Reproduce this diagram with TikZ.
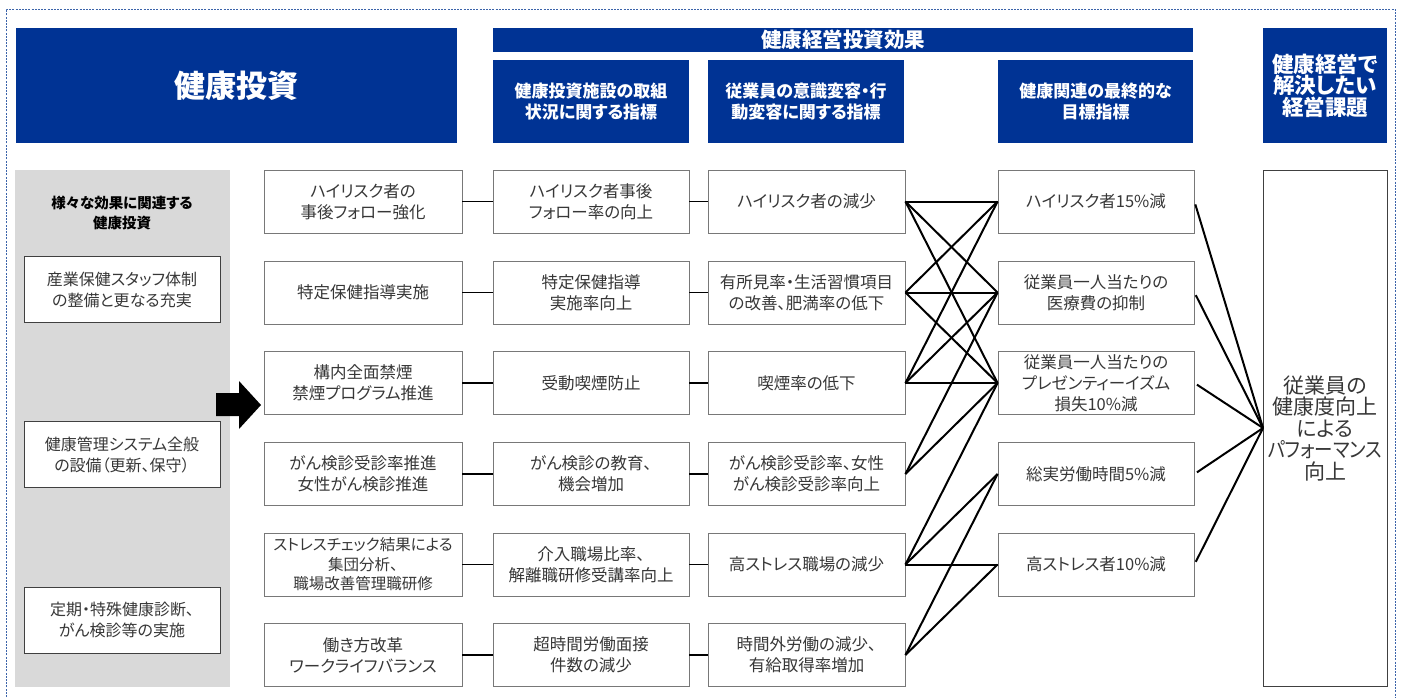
\documentclass[tikz,border=0pt]{standalone}
\usepackage{fontspec}
\setmainfont{Noto Sans CJK JP}[RawFeature=+palt]
\definecolor{hdrblue}{RGB}{0,51,148}
\definecolor{panelgray}{RGB}{217,217,217}
\definecolor{boxline}{RGB}{120,120,120}
\definecolor{darkline}{RGB}{64,64,64}
\definecolor{txtgray}{RGB}{55,55,55}
\definecolor{frameblue}{RGB}{60,100,170}
\tikzset{
  hdr/.style={fill=hdrblue, draw=none, text=white, inner sep=0pt, align=center,
    font=\bfseries\fontsize{17}{21}\selectfont},
  wbox/.style={draw=boxline, line width=0.9pt, fill=white, inner sep=0pt, align=center,
    text=txtgray, font=\fontsize{16.5}{21}\selectfont},
  cbox/.style={wbox, minimum width=#1, minimum height=63},
  lbox/.style={wbox, draw=darkline, minimum width=196, minimum height=66, font=\fontsize{16}{21}\selectfont},
  link/.style={draw=black, line width=2pt},
  frame/.style={draw=frameblue, line width=0.7pt, dash pattern=on 2pt off 1.2pt}
}
\begin{document}
\begin{tikzpicture}[x=1pt,y=-1pt]
\useasboundingbox (0,0) rectangle (1405,697);
\fill[white] (0,0) rectangle (1405,697);
\draw[frame] (6,697) -- (6,9) -- (1395,9) -- (1395,697);

% headers
\node[hdr, minimum width=441, minimum height=115, font=\bfseries\fontsize{31}{33}\selectfont] (h1) at (236.5,85.5) {健康投資};
\node[hdr, minimum width=700, minimum height=24, font=\bfseries\fontsize{20.5}{22}\selectfont] (hbar) at (843,40) {健康経営投資効果};
\node[hdr, minimum width=196, minimum height=83] (h3) at (591,101.5) {健康投資施設の取組\\状況に関する指標};
\node[hdr, minimum width=196, minimum height=83] (h4) at (806,101.5) {従業員の意識変容・行\\動変容に関する指標};
\node[hdr, minimum width=195, minimum height=83] (h5) at (1095.5,101.5) {健康関連の最終的な\\目標指標};
\node[hdr, minimum width=124, minimum height=115, font=\bfseries\fontsize{21.5}{20}\selectfont] (h6) at (1325,85.5) {健康経営で\\解決したい\\経営課題};

% gray panel
\fill[panelgray] (15,170) rectangle (230,687);
\node[align=center, text=black, font=\bfseries\fontsize{14.5}{20}\selectfont] (pt) at (122,213) {様々な効果に関連する\\健康投資};
\node[lbox] (l1) at (122,289.5) {産業保健スタッフ体制\\の整備と更なる充実};
\node[lbox] (l2) at (122,454.5) {健康管理システム全般\\の設備（更新、保守）};
\node[lbox] (l3) at (122,620) {定期・特殊健康診断、\\がん検診等の実施};

% big arrow
\fill[black] (216,393) -- (239,393) -- (239,381) -- (261,405) -- (239,429) -- (239,416) -- (216,416) -- cycle;

% column 2
\node[cbox=198] (a1) at (363,201.5) {ハイリスク者の\\事後フォロー強化};
\node[cbox=198] (a2) at (363,292.5) {特定保健指導実施};
\node[cbox=198] (a3) at (363,383) {構内全面禁煙\\禁煙プログラム推進};
\node[cbox=198] (a4) at (363,474) {がん検診受診率推進\\女性がん検診推進};
\node[cbox=198, font=\fontsize{15.5}{19.5}\selectfont] (a5) at (363,564.5) {ストレスチェック結果による\\集団分析、\\職場改善管理職研修};
\node[cbox=198] (a6) at (363,655) {働き方改革\\ワークライフバランス};

% column 3
\node[cbox=196] (b1) at (591,201.5) {ハイリスク者事後\\フォロー率の向上};
\node[cbox=196] (b2) at (591,292.5) {特定保健指導\\実施率向上};
\node[cbox=196] (b3) at (591,383) {受動喫煙防止};
\node[cbox=196] (b4) at (591,474) {がん検診の教育、\\機会増加};
\node[cbox=196] (b5) at (591,564.5) {介入職場比率、\\解離職研修受講率向上};
\node[cbox=196] (b6) at (591,655) {超時間労働面接\\件数の減少};

% column 4
\node[cbox=197] (c1) at (806.5,201.5) {ハイリスク者の減少};
\node[cbox=197] (c2) at (806.5,292.5) {有所見率・生活習慣項目\\の改善、肥満率の低下};
\node[cbox=197] (c3) at (806.5,383) {喫煙率の低下};
\node[cbox=197] (c4) at (806.5,474) {がん検診受診率、女性\\がん検診受診率向上};
\node[cbox=197] (c5) at (806.5,564.5) {高ストレス職場の減少};
\node[cbox=197] (c6) at (806.5,655) {時間外労働の減少、\\有給取得率増加};

% column 5
\node[cbox=196] (d1) at (1096,201.5) {ハイリスク者15\%減};
\node[cbox=196] (d2) at (1096,292.5) {従業員一人当たりの\\医療費の抑制};
\node[cbox=196] (d3) at (1096,383) {従業員一人当たりの\\プレゼンティーイズム\\損失10\%減};
\node[cbox=196] (d4) at (1096,474) {総実労働時間5\%減};
\node[cbox=196] (d5) at (1096,564.5) {高ストレス者10\%減};

% final
\node[wbox, draw=darkline, minimum width=124, minimum height=516, font=\fontsize{21}{21.5}\selectfont] (f) at (1325,428) {従業員の\\健康度向上\\による\\\scalebox{0.88}[1]{パフォーマンス}\\向上};
\coordinate (cv) at (1263,428);

% connectors
\foreach \i in {1,...,6} {
  \draw[link, line width=1.8pt] (a\i.east) -- (b\i.west);
  \draw[link, line width=1.8pt] (b\i.east) -- (c\i.west);
}
\foreach \s/\t in {1/1,1/2,1/3,2/1,2/2,2/3,3/1,3/2,3/3,4/2,4/3,5/3,5/4,5/5,6/4,6/5} {
  \draw[link] (c\s.east) -- (d\t.west);
}
\foreach \i in {1,...,5} {
  \draw[link, shorten <=3pt] (d\i.east) -- (cv);
}
\end{tikzpicture}
\end{document}
